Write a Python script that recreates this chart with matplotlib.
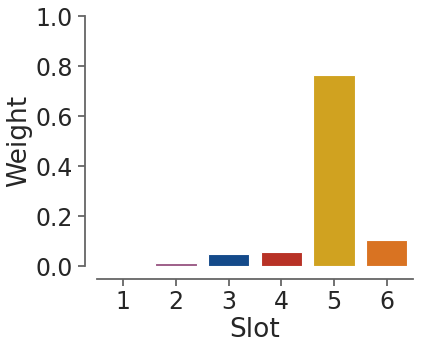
import matplotlib
matplotlib.use("Agg")
import matplotlib.pyplot as plt
import seaborn as sns

slots = ["1", "2", "3", "4", "5", "6"]
weights = [0.0, 0.011, 0.05, 0.058, 0.765, 0.105]
colors = ["#7a3a6a", "#9b5a86", "#144a8a", "#b83226", "#d0a220", "#d97322"]

sns.set_theme(style="ticks")
plt.rcParams.update({
    "axes.edgecolor": "#666666",
    "axes.linewidth": 1.3,
    "xtick.color": "#666666",
    "ytick.color": "#666666",
    "xtick.labelcolor": "#262626",
    "ytick.labelcolor": "#262626",
    "xtick.major.size": 5,
    "ytick.major.size": 5,
    "xtick.major.width": 1.3,
    "ytick.major.width": 1.3,
})

fig = plt.figure(figsize=(4.23, 3.48), dpi=100)
ax = fig.add_axes([97 / 423, 1 - 266 / 348, (413 - 97) / 423, 250 / 348])

ax.bar(range(len(slots)), weights, width=0.78, color=colors,
       edgecolor="white", linewidth=0.8)
ax.set_xticks(range(len(slots)))
ax.set_xticklabels(slots)
ax.set_xlim(-0.5, 5.5)
ax.set_ylim(0, 1.0)
ax.set_yticks([0, 0.2, 0.4, 0.6, 0.8, 1.0])
ax.tick_params(labelsize=17)
ax.set_xlabel("Slot", fontsize=19, color="#262626", labelpad=2)
ax.set_ylabel("Weight", fontsize=19, color="#262626", labelpad=2)
sns.despine(ax=ax, offset=9)

fig.savefig("out.png", dpi=100)
